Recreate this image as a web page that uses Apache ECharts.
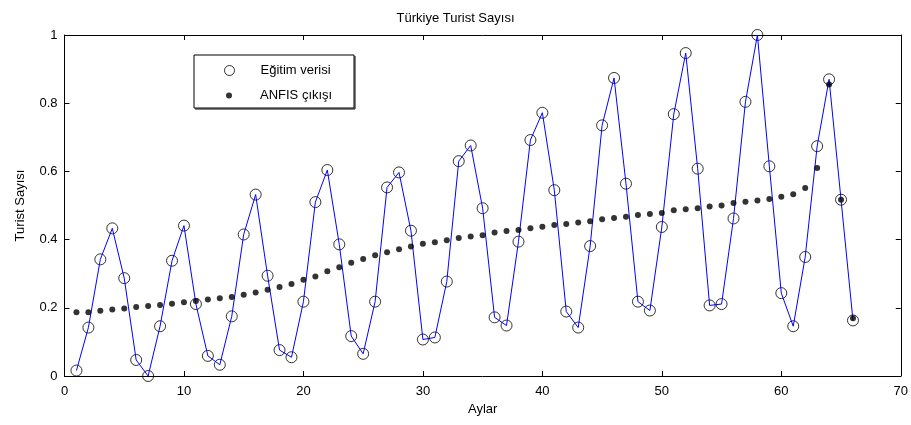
<!DOCTYPE html>
<html>
<head>
<meta charset="utf-8">
<script src="https://cdn.jsdelivr.net/npm/echarts@6/dist/echarts.min.js"></script>
<style>
html,body{margin:0;padding:0;background:#fff;}
#chart{width:911px;height:425px;}
</style>
</head>
<body>
<div id="chart"></div>
<script>
const months = [1,2,3,4,5,6,7,8,9,10,11,12,13,14,15,16,17,18,19,20,21,22,23,24,25,26,27,28,29,30,31,32,33,34,35,36,37,38,39,40,41,42,43,44,45,46,47,48,49,50,51,52,53,54,55,56,57,58,59,60,61,62,63,64,65,66];
const trainingData = [0.016,0.142,0.342,0.433,0.287,0.047,0.0,0.146,0.338,0.441,0.211,0.059,0.033,0.175,0.415,0.532,0.294,0.076,0.055,0.218,0.510,0.604,0.386,0.117,0.065,0.218,0.553,0.597,0.426,0.107,0.113,0.277,0.630,0.676,0.492,0.172,0.148,0.394,0.692,0.772,0.545,0.189,0.142,0.381,0.735,0.874,0.564,0.218,0.192,0.437,0.768,0.947,0.608,0.207,0.211,0.462,0.804,1.0,0.615,0.243,0.146,0.349,0.674,0.870,0.517,0.163];
const anfisOutput = [0.187,0.187,0.191,0.195,0.198,0.202,0.205,0.208,0.212,0.216,0.220,0.224,0.228,0.232,0.238,0.245,0.253,0.261,0.270,0.282,0.292,0.307,0.319,0.332,0.343,0.354,0.363,0.372,0.380,0.388,0.392,0.398,0.405,0.409,0.413,0.421,0.425,0.428,0.433,0.438,0.443,0.446,0.450,0.454,0.460,0.463,0.467,0.472,0.475,0.478,0.486,0.489,0.492,0.497,0.500,0.507,0.511,0.515,0.519,0.526,0.533,0.551,0.610,0.855,0.517,0.169];
const xTicks = {min:0, max:70, interval:10};
const yTicks = {min:0, max:1, interval:0.2};
const titleText = 'Türkiye Turist Sayısı';
const xName = 'Aylar';
const yName = 'Turist Sayısı';
const legendNames = ['Eğitim verisi', 'ANFIS çıkışı'];

const font = 'Liberation Sans, Arial, sans-serif';
const pairs = (a) => months.map((m, i) => [m, a[i]]);

const chart = echarts.init(document.getElementById('chart'), null, {renderer:'canvas'});
const axisCommon = {
  axisLine:{show:true, onZero:false, lineStyle:{color:'#000', width:1}},
  axisTick:{show:true, inside:true, length:5, lineStyle:{color:'#000'}},
  splitLine:{show:false}
};
chart.setOption({
  animation:false,
  backgroundColor:'#fff',
  title:{text:titleText, left:'center', top:7, textStyle:{fontFamily:font, fontSize:13, fontWeight:'normal', color:'#000'}},
  grid:{left:64.5, right:9.5, top:35, bottom:49, containLabel:false},
  graphic:[{type:'rect', shape:{x:194, y:55, width:160, height:53}, style:{fill:'#fff', stroke:'#000', lineWidth:1}, z:5},
           {type:'line', shape:{x1:355, y1:56, x2:355, y2:109}, style:{stroke:'#000', lineWidth:1}, z:5},
           {type:'line', shape:{x1:195, y1:109, x2:355, y2:109}, style:{stroke:'#000', lineWidth:1}, z:5}],
  legend:[
    {data:[{name:legendNames[0], icon:'circle', itemStyle:{color:'#fff', borderColor:'#000', borderWidth:1}}],
     left:219, top:59, itemWidth:50, itemHeight:10, itemGap:0, z:10,
     textStyle:{fontFamily:font, fontSize:13, color:'#000', padding:[0,0,0,1]}, selectedMode:false},
    {data:[{name:legendNames[1], icon:'circle', itemStyle:{color:'#000', borderWidth:0}}],
     left:221, top:84, itemWidth:50, itemHeight:6, itemGap:0, z:10,
     textStyle:{fontFamily:font, fontSize:13, color:'#000', padding:[0,0,0,1]}, selectedMode:false}
  ],
  xAxis:[
    Object.assign({type:'value', position:'bottom', min:xTicks.min, max:xTicks.max, interval:xTicks.interval,
      name:xName, nameLocation:'middle', nameGap:27, nameTextStyle:{fontFamily:font, fontSize:13, color:'#000'},
      axisLabel:{fontFamily:font, fontSize:13, color:'#000', margin:9}}, axisCommon),
    Object.assign({type:'value', position:'top', min:xTicks.min, max:xTicks.max, interval:xTicks.interval,
      axisLabel:{show:false}}, axisCommon)
  ],
  yAxis:[
    Object.assign({type:'value', position:'left', min:yTicks.min, max:yTicks.max, interval:yTicks.interval,
      name:yName, nameLocation:'middle', nameGap:38, nameTextStyle:{fontFamily:font, fontSize:13, color:'#000'},
      axisLabel:{fontFamily:font, fontSize:13, color:'#000', margin:7, formatter:(v)=>String(+v.toFixed(1))}}, axisCommon),
    Object.assign({type:'value', position:'right', min:yTicks.min, max:yTicks.max, interval:yTicks.interval,
      axisLabel:{show:false}}, axisCommon)
  ],
  series:[
    {name:legendNames[0], type:'scatter', data:pairs(trainingData), symbol:'circle', symbolSize:11,
     itemStyle:{color:'rgba(0,0,0,0)', borderColor:'#000', borderWidth:1}, z:2},
    {name:'line', type:'line', data:pairs(trainingData), showSymbol:false, symbol:'none',
     lineStyle:{color:'#0000ff', width:1}, itemStyle:{color:'#0000ff'}, z:3},
    {name:legendNames[1], type:'scatter', data:pairs(anfisOutput), symbol:'circle', symbolSize:6,
     itemStyle:{color:'#000'}, z:4}
  ]
});
</script>
</body>
</html>
